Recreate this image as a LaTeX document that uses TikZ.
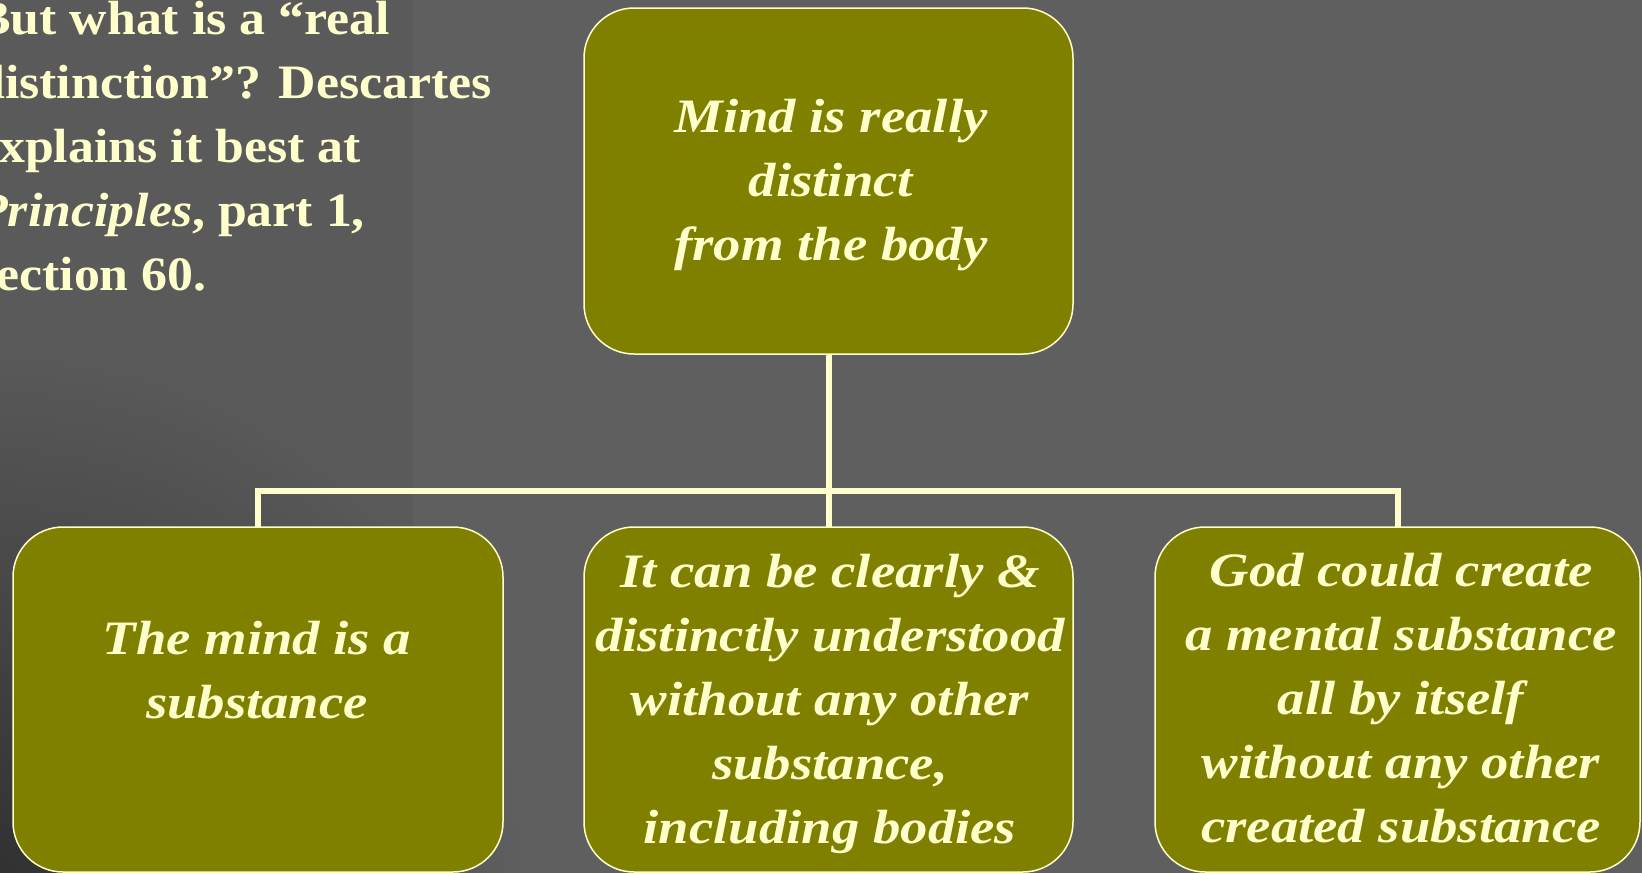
\documentclass[tikz,border=0pt]{standalone}
\usepackage{fontspec}
\setmainfont[FakeStretch=1.14]{Liberation Serif}
\newfontfamily\introfont[FakeStretch=1.08]{Liberation Serif}
\usetikzlibrary{fadings}
\definecolor{bg}{HTML}{5F5F5F}
\definecolor{bgleft}{HTML}{5A5A5A}
\definecolor{olivebox}{HTML}{808000}
\definecolor{cream}{HTML}{FFFFCC}
\tikzfading[name=cornerfade, inner color=transparent!55, outer color=transparent!100]
\begin{document}
\begin{tikzpicture}[x=1pt,y=-1pt,
  box/.style={draw=cream, line width=1.5pt, fill=olivebox, rounded corners=50pt,
    inner sep=0pt, outer sep=0pt},
  wire/.style={draw=cream, line width=6pt},
  label/.style={text=cream, font=\fontsize{48}{64}\selectfont\bfseries\itshape,
    align=center, anchor=base, inner sep=0pt},
  intro/.style={text=cream, font=\introfont\fontsize{48}{64}\selectfont\bfseries,
    align=left, anchor=base west, inner sep=0pt}
]
\useasboundingbox (0,0) rectangle (1642,873);
\clip (0,0) rectangle (1642,873);
% slide background
\fill[bg] (0,0) rectangle (1642,873);
\fill[bgleft] (0,0) rectangle (413,873);
\fill[black, path fading=cornerfade] (-520,353) rectangle (520,1393);

% introductory text (anchored at the baseline of its last line)
\node[intro] (intro) at (-24,290)
  {But what is a “real\\distinction”? Descartes\\explains it best at\\\textit{Principles}, part 1,\\section 60.};

% boxes
\node[box, minimum width=489pt, minimum height=346pt] (top) at (828.5,181) {};
\node[box, minimum width=490pt, minimum height=345pt] (left) at (258,699.5) {};
\node[box, minimum width=489pt, minimum height=345pt] (mid) at (828.5,699.5) {};
\node[box, minimum width=485pt, minimum height=345pt] (right) at (1397.5,699.5) {};

% connectors
\coordinate (bar) at (828.5,491);
\draw[wire] (top.south) -- (mid.north);
\draw[wire] (left.north) -- (left.north |- bar) -- (right.north |- bar) -- (right.north);

% box texts (each anchored at the baseline of its last line)
\node[label] (topT) at (831,260) {Mind is really\\distinct\\from the body};
\node[label] (leftT) at (257,718) {The mind is a\\substance};
\node[label] (midT) at (830,843) {It can be clearly \&\\distinctly understood\\without any other\\substance,\\including bodies};
\node[label] (rightT) at (1401,842) {God could create\\a mental substance\\all by itself\\without any other\\created substance};
\end{tikzpicture}
\end{document}
